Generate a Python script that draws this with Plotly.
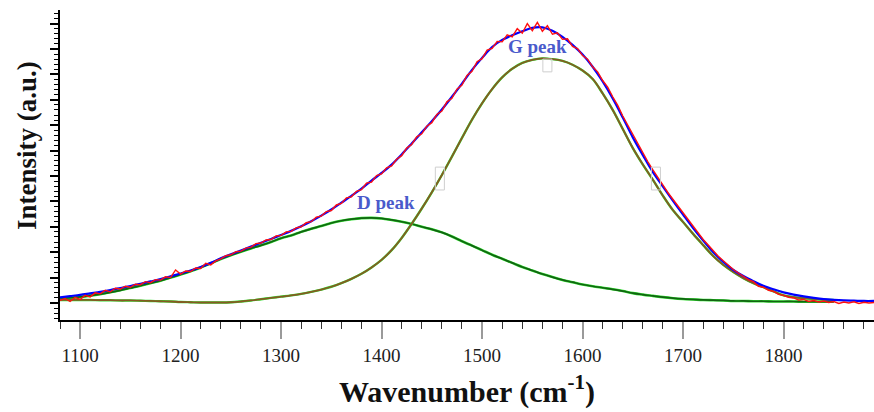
import plotly.graph_objects as go

# ---------------- data ----------------
wn10 = list(range(1080, 1891, 10))          # sampling of fitted curves
fit_total = [0.22, 0.27, 0.32, 0.38, 0.44, 0.51, 0.59, 0.67, 0.76, 0.85,
             0.94, 1.05, 1.16, 1.28, 1.42, 1.58, 1.76, 1.92, 2.07, 2.22,
             2.37, 2.52, 2.68, 2.84, 3.02, 3.22, 3.44, 3.68, 3.95, 4.22,
             4.50, 4.82, 5.12, 5.45, 5.85, 6.28, 6.72, 7.16, 7.62, 8.12,
             8.64, 9.18, 9.65, 10.08, 10.36, 10.54, 10.70, 10.83, 10.85, 10.72,
             10.48, 10.16, 9.78, 9.30, 8.72, 8.05, 7.30, 6.52, 5.82, 5.15,
             4.58, 4.02, 3.48, 2.95, 2.46, 2.00, 1.62, 1.30, 1.06, 0.86,
             0.68, 0.54, 0.42, 0.33, 0.26, 0.20, 0.15, 0.12, 0.10, 0.09,
             0.08, 0.08]

wn_comp = list(range(1080, 1851, 10))
d_peak = [0.17, 0.20, 0.24, 0.29, 0.35, 0.42, 0.50, 0.59, 0.68, 0.78,
          0.88, 1.00, 1.12, 1.25, 1.40, 1.56, 1.73, 1.88, 2.02, 2.15,
          2.27, 2.40, 2.55, 2.66, 2.80, 2.92, 3.03, 3.15, 3.24, 3.30,
          3.34, 3.35, 3.33, 3.27, 3.20, 3.11, 3.00, 2.90, 2.78, 2.62,
          2.43, 2.26, 2.08, 1.90, 1.74, 1.58, 1.42, 1.28, 1.14, 1.02,
          0.91, 0.82, 0.73, 0.66, 0.60, 0.54, 0.47, 0.39, 0.33, 0.28,
          0.23, 0.19, 0.16, 0.14, 0.12, 0.11, 0.10, 0.08, 0.08, 0.07,
          0.07, 0.06, 0.06, 0.06, 0.05, 0.05, 0.05, 0.05]
g_peak = [0.12, 0.12, 0.12, 0.12, 0.11, 0.11, 0.10, 0.10, 0.09, 0.08,
          0.07, 0.06, 0.04, 0.03, 0.02, 0.02, 0.02, 0.03, 0.06, 0.10,
          0.15, 0.20, 0.25, 0.30, 0.36, 0.44, 0.53, 0.64, 0.78, 0.95,
          1.15, 1.40, 1.70, 2.08, 2.56, 3.12, 3.72, 4.36, 5.04, 5.76,
          6.50, 7.22, 7.86, 8.42, 8.88, 9.22, 9.45, 9.57, 9.63, 9.60,
          9.53, 9.38, 9.15, 8.82, 8.25, 7.60, 6.85, 6.10, 5.45, 4.85,
          4.22, 3.65, 3.19, 2.72, 2.28, 1.85, 1.50, 1.22, 0.98, 0.78,
          0.62, 0.46, 0.30, 0.23, 0.19, 0.16, 0.13, 0.12]

wn5 = list(range(1080, 1891, 5))            # measured spectrum sampling
measured = [0.10, 0.18, 0.06, 0.22, 0.14, 0.30, 0.24, 0.40, 0.36, 0.50,
            0.44, 0.58, 0.55, 0.66, 0.62, 0.74, 0.72, 0.84, 0.80, 0.92,
            0.90, 1.03, 1.00, 1.30, 1.14, 1.26, 1.24, 1.38, 1.36, 1.56,
            1.50, 1.66, 1.74, 1.86, 1.90, 2.02, 2.04, 2.16, 2.20, 2.34,
            2.36, 2.48, 2.50, 2.64, 2.66, 2.80, 2.82, 2.96, 3.00, 3.16,
            3.20, 3.38, 3.42, 3.60, 3.64, 3.86, 3.92, 4.14, 4.18, 4.40,
            4.46, 4.72, 4.76, 5.02, 5.08, 5.32, 5.40, 5.66, 5.80, 6.10,
            6.24, 6.54, 6.66, 6.96, 7.10, 7.42, 7.56, 7.92, 8.06, 8.42,
            8.58, 8.96, 9.12, 9.50, 9.62, 9.96, 10.02, 10.30, 10.28, 10.56,
            10.48, 10.80, 10.62, 11.00, 10.72, 11.05, 10.70, 10.92, 10.58, 10.64,
            10.38, 10.40, 10.10, 10.02, 9.74, 9.60, 9.30, 9.10, 8.76, 8.50,
            8.12, 7.78, 7.36, 7.00, 6.60, 6.24, 5.90, 5.56, 5.24, 4.92,
            4.64, 4.34, 4.08, 3.80, 3.54, 3.26, 3.00, 2.76, 2.50, 2.28,
            2.04, 1.84, 1.66, 1.48, 1.32, 1.18, 1.06, 0.92, 0.84, 0.66,
            0.62, 0.50, 0.46, 0.34, 0.30, 0.22, 0.20, 0.12, 0.14, 0.06,
            0.10, 0.04, 0.08, 0.02, 0.06, -0.02, 0.04, 0.00, 0.05, -0.02,
            0.03, 0.00, 0.02]

# FWHM / centre markers of the G peak
marker_x = [1458, 1565, 1673]
marker_y = [4.9, 9.35, 4.9]
marker_h = [0.9, 0.5, 0.9]

peak_labels = ["D peak", "G peak"]
label_x = [1404, 1555]
label_y = [3.94, 10.08]

x_ticks = [1100, 1200, 1300, 1400, 1500, 1600, 1700, 1800]

SERIF = "Liberation Serif, Times New Roman, serif"

fig = go.Figure()

# D peak component (bright green under dark green)
fig.add_trace(go.Scatter(x=wn_comp, y=d_peak, mode="lines",
                         line=dict(color="#2ee02e", width=2.6, shape="spline"),
                         hoverinfo="skip"))
fig.add_trace(go.Scatter(x=wn_comp, y=d_peak, mode="lines",
                         line=dict(color="#126312", width=1.7, shape="spline")))
# G peak component (bright green under olive-brown)
fig.add_trace(go.Scatter(x=wn_comp, y=g_peak, mode="lines",
                         line=dict(color="#2ee02e", width=2.4, shape="spline"),
                         hoverinfo="skip"))
fig.add_trace(go.Scatter(x=wn_comp, y=g_peak, mode="lines",
                         line=dict(color="#855a22", width=1.8, shape="spline")))
# cumulative fit
fig.add_trace(go.Scatter(x=wn10, y=fit_total, mode="lines",
                         line=dict(color="#0000ff", width=2.2, shape="spline")))
# measured spectrum
fig.add_trace(go.Scatter(x=wn5, y=measured, mode="lines",
                         line=dict(color="#ff1010", width=1.4)))

# markers (light grey boxes)
for mx, my, mh in zip(marker_x, marker_y, marker_h):
    fig.add_shape(type="rect", xref="x", yref="y",
                  x0=mx - 4.5, x1=mx + 4.5, y0=my - mh / 2, y1=my + mh / 2,
                  line=dict(color="#cfcfcf", width=1), fillcolor="rgba(0,0,0,0)")

for t, lx, ly in zip(peak_labels, label_x, label_y):
    fig.add_annotation(x=lx, y=ly, xref="x", yref="y", text=t, showarrow=False,
                       font=dict(family=SERIF, size=19, color="#4a5acb", weight="bold"))

fig.add_annotation(x=-0.0405, y=0.561, xref="paper", yref="paper",
                   xanchor="center", yanchor="middle",
                   text="Intensity (a.u.)", textangle=-90, showarrow=False,
                   font=dict(family=SERIF, size=27, color="#111111", weight="bold"))

fig.update_layout(
    width=874, height=412,
    margin=dict(l=60, r=0, t=10, b=92, autoexpand=False),
    paper_bgcolor="white", plot_bgcolor="white",
    showlegend=False,
    xaxis=dict(
        range=[1080, 1890], tickmode="array", tickvals=x_ticks,
        ticktext=[str(v) for v in x_ticks], automargin=False,
        ticks="outside", ticklen=17, tickwidth=1.5, tickcolor="#9a9a9a",
        showline=True, linecolor="black", linewidth=2,
        showgrid=False, zeroline=False,
        tickfont=dict(family=SERIF, size=19, color="#222222"),
        minor=dict(tick0=1100, dtick=20, ticks="outside", ticklen=7,
                   tickwidth=1.2, tickcolor="#333333", showgrid=False),
        title=dict(text="Wavenumber (cm<sup>-1</sup>)", standoff=16,
                   font=dict(family=SERIF, size=30, color="#111111", weight="bold")),
    ),
    yaxis=dict(
        range=[-0.669, 11.535], tickmode="linear", tick0=0, dtick=1,
        ticks="outside", ticklen=8, tickwidth=1.5, tickcolor="black",
        showticklabels=False, automargin=False,
        showline=True, linecolor="black", linewidth=2,
        showgrid=False, zeroline=False,
        minor=dict(tick0=0, dtick=0.2, ticks="outside", ticklen=4,
                   tickwidth=1.2, tickcolor="black", showgrid=False),
    ),
)

fig.write_html("out.html",
               config={"displayModeBar": False},
               post_script="document.body.style.margin='0';"
                           "document.body.style.overflow='hidden';")
